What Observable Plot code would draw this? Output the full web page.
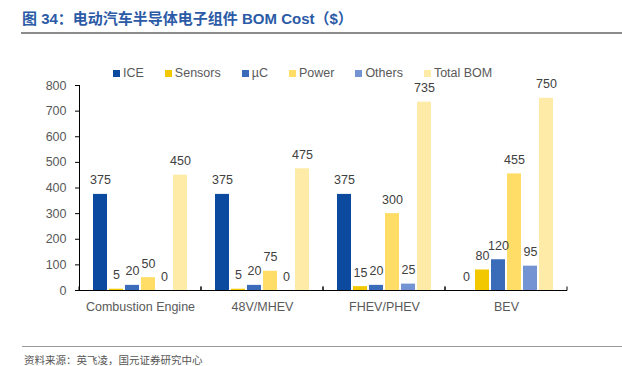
<!DOCTYPE html>
<html>
<head>
<meta charset="utf-8">
<script src="https://cdn.jsdelivr.net/npm/d3@7"></script>
<script src="https://cdn.jsdelivr.net/npm/@observablehq/plot@0.6"></script>
<style>
  html, body { margin: 0; padding: 0; background: #fff; }
  #wrap { position: relative; width: 622px; height: 366px; overflow: hidden; font-family: "Liberation Sans", Arial, sans-serif; }
  #title { position: absolute; left: 22px; top: 7px; font-family: "Liberation Sans", "Noto Sans CJK SC", sans-serif; font-weight: bold; font-size: 15px; color: #2B5BA6; white-space: nowrap; }
  #tline { position: absolute; left: 21px; right: 0; top: 32px; height: 2px; background: #8c8c8c; }
  #legend { position: absolute; left: 113px; top: 66px; display: flex; gap: 21px; font-size: 12.5px; color: #595959; }
  #legend .item { display: flex; align-items: center; gap: 3px; }
  #legend .sw { width: 7px; height: 7px; display: inline-block; }
  #bline { position: absolute; left: 22px; right: 0; top: 346px; height: 1px; background: #9a9a9a; }
  #source { position: absolute; left: 24px; top: 354px; line-height: 12px; font-family: "Noto Sans CJK SC", sans-serif; font-size: 10.5px; color: #555; white-space: nowrap; }
  #chart { position: absolute; left: 0; top: 0; }
</style>
</head>
<body>
<div id="wrap">
  <div id="chart"></div>
  <div id="title"></div>
  <div id="tline"></div>
  <div id="legend"></div>
  <div id="bline"></div>
  <div id="source"></div>
</div>
<script>
const titleText = "图 34：电动汽车半导体电子组件 BOM Cost（$）";
const sourceText = "资料来源：英飞凌，国元证券研究中心";

const categories = ["Combustion Engine", "48V/MHEV", "FHEV/PHEV", "BEV"];
const series = ["ICE", "Sensors", "µC", "Power", "Others", "Total BOM"];
const colors = ["#0B4A9F", "#F2C800", "#3B6CB9", "#FFDD66", "#7393D3", "#FFEBA8"];

const ice = [375, 375, 375, 0];
const sensors = [5, 5, 15, 80];
const mcu = [20, 20, 20, 120];
const power = [50, 75, 300, 455];
const others = [0, 0, 25, 95];
const total = [450, 475, 735, 750];

const yTicks = [0, 100, 200, 300, 400, 500, 600, 700, 800];

const seriesValues = [ice, sensors, mcu, power, others, total];
const data = [];
categories.forEach((c, i) => {
  series.forEach((s, j) => {
    data.push({ category: c, series: s, value: seriesValues[j][i] });
  });
});

document.getElementById("title").textContent = titleText;
document.getElementById("source").textContent = sourceText;

const legend = document.getElementById("legend");
series.forEach((s, j) => {
  const item = document.createElement("div");
  item.className = "item";
  const sw = document.createElement("span");
  sw.className = "sw";
  sw.style.background = colors[j];
  const t = document.createElement("span");
  t.textContent = s;
  item.appendChild(sw);
  item.appendChild(t);
  legend.appendChild(item);
});

function boundaryTicks(index, scales, values, dimensions, context, next) {
  const g = next(index, scales, values, dimensions, context);
  try {
    const r = scales.x.range();
    const y0 = scales.y(0);
    const sel = d3.select(g);
    [r[0], r[1]].forEach(xx => {
      sel.append("line")
        .attr("x1", xx).attr("x2", xx)
        .attr("y1", y0).attr("y2", y0 - 4)
        .attr("stroke", "#000").attr("stroke-width", 1);
    });
  } catch (e) {}
  return g;
}

const chart = Plot.plot({
  width: 622,
  height: 366,
  marginTop: 85,
  marginBottom: 76,
  marginLeft: 78,
  marginRight: 55,
  style: { fontFamily: "Liberation Sans, Arial, sans-serif", background: "transparent" },
  fx: { domain: categories, padding: 0, label: null },
  x: { domain: series, paddingInner: 0.14, paddingOuter: 0.82, axis: null },
  y: { domain: [0, 800], label: null },
  color: { domain: series, range: colors },
  marks: [
    Plot.barY(data, { fx: "category", x: "series", y: "value", fill: "series" }),
    Plot.text(data, { fx: "category", x: "series", y: "value", text: d => String(d.value), dy: -14, fill: "#404040", fontSize: 12.5 }),
    Plot.ruleY([0], { stroke: "#000", strokeWidth: 1, render: boundaryTicks }),
    Plot.frame({ anchor: "left", stroke: "#000", facetAnchor: "left" }),
    Plot.axisY({ ticks: yTicks, tickSize: 4, tickPadding: 9, fontSize: 12.5, fill: "#595959", stroke: "#000", label: null, tickFormat: d => String(d) }),
    Plot.axisFx({ anchor: "bottom", tickSize: 0, tickPadding: 12, fontSize: 12.5, fill: "#595959", label: null })
  ]
});
document.getElementById("chart").appendChild(chart);
</script>
</body>
</html>
